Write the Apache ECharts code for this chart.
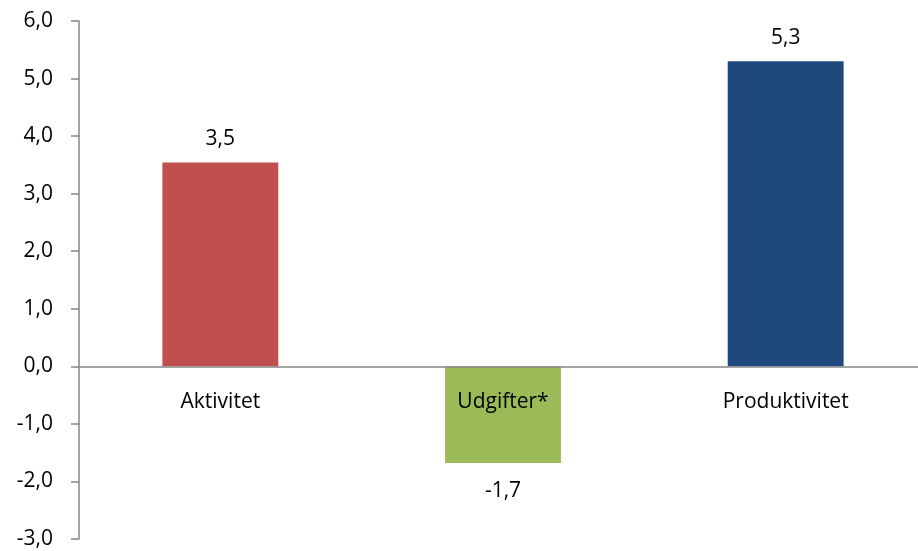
<!DOCTYPE html>
<html>
<head>
<meta charset="utf-8">
<script src="https://cdn.jsdelivr.net/npm/echarts@6/dist/echarts.min.js"></script>
<style>
    html, body { margin: 0; padding: 0; background: #fff; }
    #chart { width: 918px; height: 551px; }
</style>
</head>
<body>
<div id="chart"></div>
<script>
var categories = ['Aktivitet', 'Udgifter*', 'Produktivitet'];
var values = [3.54, -1.68, 5.3];
var barColors = ['#C0504D', '#9BBB59', '#1F497D'];

(function () {
    var myChart = echarts.init(document.querySelector('#chart'));
    var fontName = 'Open Sans';
    // komma som decimaltegn
    function fmt(v) {
        return Number(v).toFixed(1).replace('.', ',');
    }
    var option = {
        animation: false,
        grid: {
            left: 79,
            right: -9,
            top: 21,
            bottom: 12,
            containLabel: false,
            outerBoundsMode: 'none'
        },
        xAxis: {
            type: 'category',
            data: categories,
            z: 5,
            offset: 0,
            axisLine: {
                onZero: false,
                lineStyle: { color: '#868686', width: 1.5 }
            },
            axisTick: {
                length: 6,
                lineStyle: { color: '#868686', width: 1.5 }
            },
            axisLabel: {
                color: '#000',
                fontSize: 21,
                fontFamily: fontName,
                margin: 25
            }
        },
        yAxis: {
            type: 'value',
            min: -3,
            max: 6,
            interval: 1,
            axisLine: {
                show: true,
                lineStyle: { color: '#868686', width: 1.5 }
            },
            axisTick: {
                show: true,
                length: 8,
                lineStyle: { color: '#868686', width: 1.5 }
            },
            splitLine: { show: false },
            axisLabel: {
                color: '#000',
                fontSize: 21,
                fontFamily: fontName,
                margin: 26,
                formatter: fmt
            }
        },
        series: [
            {
                type: 'bar',
                barWidth: '41%',
                data: values.map(function (v, i) {
                    return {
                        value: v,
                        itemStyle: { color: barColors[i] },
                        label: {
                            position: v < 0 ? 'bottom' : 'top',
                            distance: v < 0 ? 17 : 13
                        }
                    };
                }),
                label: {
                    show: true,
                    color: '#000',
                    fontSize: 21,
                    fontFamily: fontName,
                    formatter: function (p) { return fmt(p.value); }
                }
            }
        ]
    };
    myChart.setOption(option);

    // flyt x-aksen (linje, ticks og labels) op til 0-linjen
    var yZero = myChart.convertToPixel({ yAxisIndex: 0 }, 0);
    var yMin = myChart.convertToPixel({ yAxisIndex: 0 }, -3);
    myChart.setOption({ xAxis: { offset: yZero - yMin } });
})();
</script>
</body>
</html>
